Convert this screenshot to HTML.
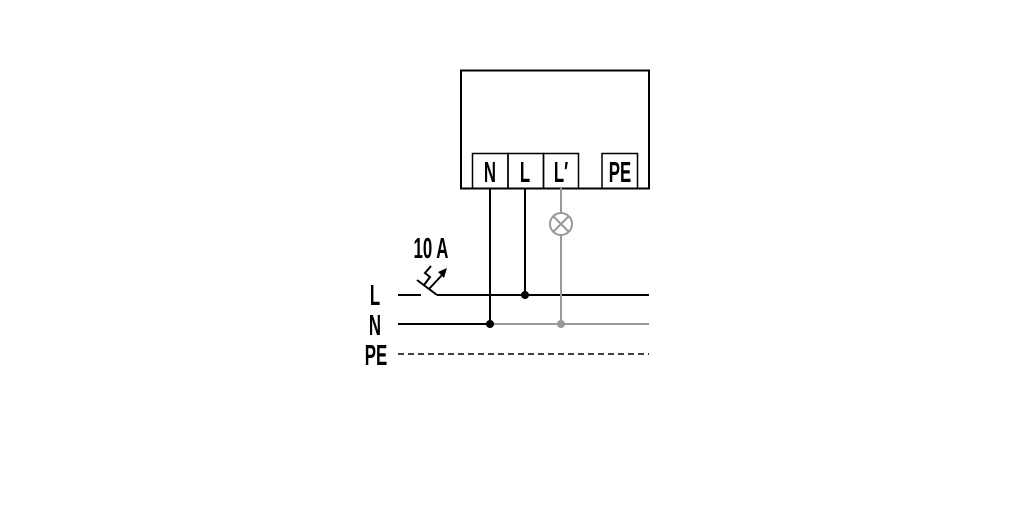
<!DOCTYPE html>
<html><head><style>
html,body{margin:0;padding:0;background:#fff;width:1016px;height:531px;overflow:hidden}
text{font-family:"Liberation Sans",sans-serif;font-weight:bold}
</style></head><body>
<svg width="1016" height="531" viewBox="0 0 1016 531" xmlns="http://www.w3.org/2000/svg">
<rect x="461" y="70.5" width="188" height="118" fill="none" stroke="#000" stroke-width="2"/>
<g fill="none" stroke="#000" stroke-width="1.5">
<rect x="472.5" y="153.5" width="35.5" height="35"/>
<rect x="508" y="153.5" width="35.5" height="35"/>
<rect x="543.5" y="153.5" width="35" height="35"/>
<rect x="602" y="153.5" width="35.5" height="35"/>
</g>
<g font-size="29" text-anchor="middle">
<text transform="translate(490 182) scale(0.58 1)">N</text>
<text transform="translate(525 182) scale(0.58 1)">L</text>
<text transform="translate(561 182) scale(0.58 1)">L′</text>
<text transform="translate(620 182) scale(0.58 1)">PE</text>
<text transform="translate(375 305) scale(0.58 1)">L</text>
<text transform="translate(375 335) scale(0.58 1)">N</text>
<text transform="translate(376 365) scale(0.58 1)">PE</text>
<text transform="translate(431 258) scale(0.58 1)">10 A</text>
</g>
<g stroke="#000" stroke-width="2" fill="none">
<line x1="490" y1="188" x2="490" y2="324"/>
<line x1="525" y1="188" x2="525" y2="295"/>
<line x1="398" y1="295" x2="421" y2="295"/>
<line x1="437" y1="295" x2="649" y2="295"/>
<line x1="417" y1="280" x2="437" y2="295"/>
<line x1="398" y1="324" x2="490" y2="324"/>
<polyline points="424,285 430,277 425,273 431,266"/>
<line x1="429" y1="289" x2="443" y2="274"/>
</g>
<polygon points="447,268 438,272 444,278" fill="#000"/>
<g stroke="#999" stroke-width="2" fill="none">
<line x1="490" y1="324" x2="649" y2="324"/>
<line x1="561" y1="188" x2="561" y2="213"/>
<line x1="561" y1="235" x2="561" y2="324"/>
<circle cx="561" cy="224" r="11"/>
<line x1="553" y1="216" x2="569" y2="232"/>
<line x1="569" y1="216" x2="553" y2="232"/>
</g>
<line x1="398" y1="354" x2="649" y2="354" stroke="#000" stroke-width="1.5" stroke-dasharray="6,4"/>
<circle cx="525" cy="295" r="4" fill="#000"/>
<circle cx="490" cy="324" r="4" fill="#000"/>
<circle cx="561" cy="324" r="4" fill="#999"/>
</svg>
</body></html>
